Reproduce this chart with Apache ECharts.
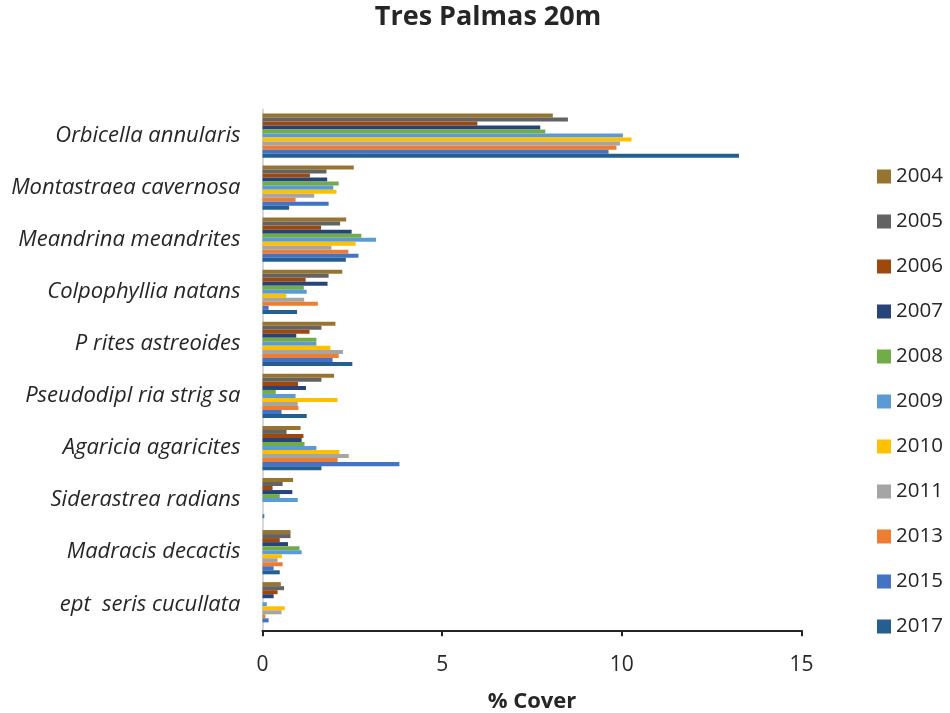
<!DOCTYPE html>
<html>
<head>
<meta charset="utf-8">
<script src="https://cdn.jsdelivr.net/npm/echarts@6/dist/echarts.min.js"></script>
<style>
html,body{margin:0;padding:0;background:#fff;}
#chart{width:950px;height:713px;}
</style>
</head>
<body>
<div id="chart"></div>
<script>
const categories = [
  "Orbicella annularis",
  "Montastraea cavernosa",
  "Meandrina meandrites",
  "Colpophyllia natans",
  "P rites astreoides",
  "Pseudodipl ria strig sa",
  "Agaricia agaricites",
  "Siderastrea radians",
  "Madracis decactis",
  "ept  seris cucullata"
];
const years = ["2004","2005","2006","2007","2008","2009","2010","2011","2013","2015","2017"];
const colors = ["#977530","#636363","#9E480E","#264478","#70AD47","#5B9BD5","#FFC000","#A5A5A5","#ED7D31","#4472C4","#255E91"];

const v2004 = [8.08, 2.54, 2.33, 2.22, 2.03, 1.99, 1.06, 0.85, 0.78, 0.51];
const v2005 = [8.50, 1.78, 2.16, 1.84, 1.64, 1.64, 0.67, 0.56, 0.78, 0.60];
const v2006 = [5.98, 1.32, 1.63, 1.20, 1.31, 0.99, 1.14, 0.28, 0.48, 0.42];
const v2007 = [7.73, 1.80, 2.48, 1.81, 0.94, 1.21, 1.09, 0.83, 0.71, 0.31];
const v2008 = [7.87, 2.12, 2.75, 1.15, 1.50, 0.37, 1.17, 0.48, 1.03, 0];
const v2009 = [10.03, 1.97, 3.16, 1.23, 1.50, 0.92, 1.50, 0.98, 1.09, 0.12];
const v2010 = [10.27, 2.06, 2.59, 0.66, 1.89, 2.09, 2.14, 0, 0.54, 0.62];
const v2011 = [9.95, 1.44, 1.92, 1.16, 2.24, 0.98, 2.40, 0, 0.42, 0.53];
const v2013 = [9.85, 0.92, 2.39, 1.54, 2.12, 1.00, 2.09, 0, 0.56, 0.08];
const v2015 = [9.63, 1.84, 2.67, 0.17, 1.95, 0.53, 3.81, 0.05, 0.31, 0.17];
const v2017 = [13.26, 0.74, 2.32, 0.96, 2.50, 1.23, 1.64, 0, 0.48, 0];
const seriesValues = [v2004, v2005, v2006, v2007, v2008, v2009, v2010, v2011, v2013, v2015, v2017];
const xTicks = [0, 5, 10, 15];

const FONT = "Open Sans";
const chart = echarts.init(document.getElementById('chart'), null, {renderer: 'canvas'});
chart.setOption({
  animation: false,
  color: colors,
  title: {
    text: "Tres Palmas 20m",
    left: 488, top: 4, textAlign: 'center', padding: 0,
    textStyle: {fontFamily: FONT, fontSize: 27, fontWeight: 'bold', color: '#262626'}
  },
  legend: {
    orient: 'vertical',
    left: 877, top: 166, padding: 0,
    itemWidth: 14, itemHeight: 14, itemGap: 24,
    icon: 'rect',
    data: years,
    textStyle: {fontFamily: FONT, fontSize: 20.5, color: '#262626', lineHeight: 20}
  },
  grid: {left: 262.5, right: 148.5, top: 109.5, bottom: 82.7, containLabel: false, outerBoundsMode: 'none'},
  xAxis: {
    type: 'value', min: xTicks[0], max: xTicks[xTicks.length-1], interval: 5,
    name: '% Cover', nameLocation: 'center', nameGap: 60,
    nameTextStyle: {fontFamily: FONT, fontSize: 22, fontWeight: 'bold', color: '#262626'},
    axisLine: {show: true, lineStyle: {color: '#262626', width: 2}},
    axisTick: {show: true, length: 6, lineStyle: {color: '#262626', width: 2}},
    axisLabel: {fontFamily: FONT, fontSize: 21, color: '#262626', margin: 24},
    splitLine: {show: false}
  },
  yAxis: {
    type: 'category', inverse: true, data: categories,
    axisLine: {show: true, lineStyle: {color: '#D9D9D9', width: 2}},
    axisTick: {show: false},
    axisLabel: {fontFamily: FONT, fontSize: 22, fontStyle: 'italic', color: '#262626', margin: 22}
  },
  series: years.map((y, i) => ({
    name: y, type: 'bar', data: seriesValues[i],
    barGap: '0%', barCategoryGap: '15%',
    itemStyle: {color: colors[i]}
  }))
});
</script>
</body>
</html>
